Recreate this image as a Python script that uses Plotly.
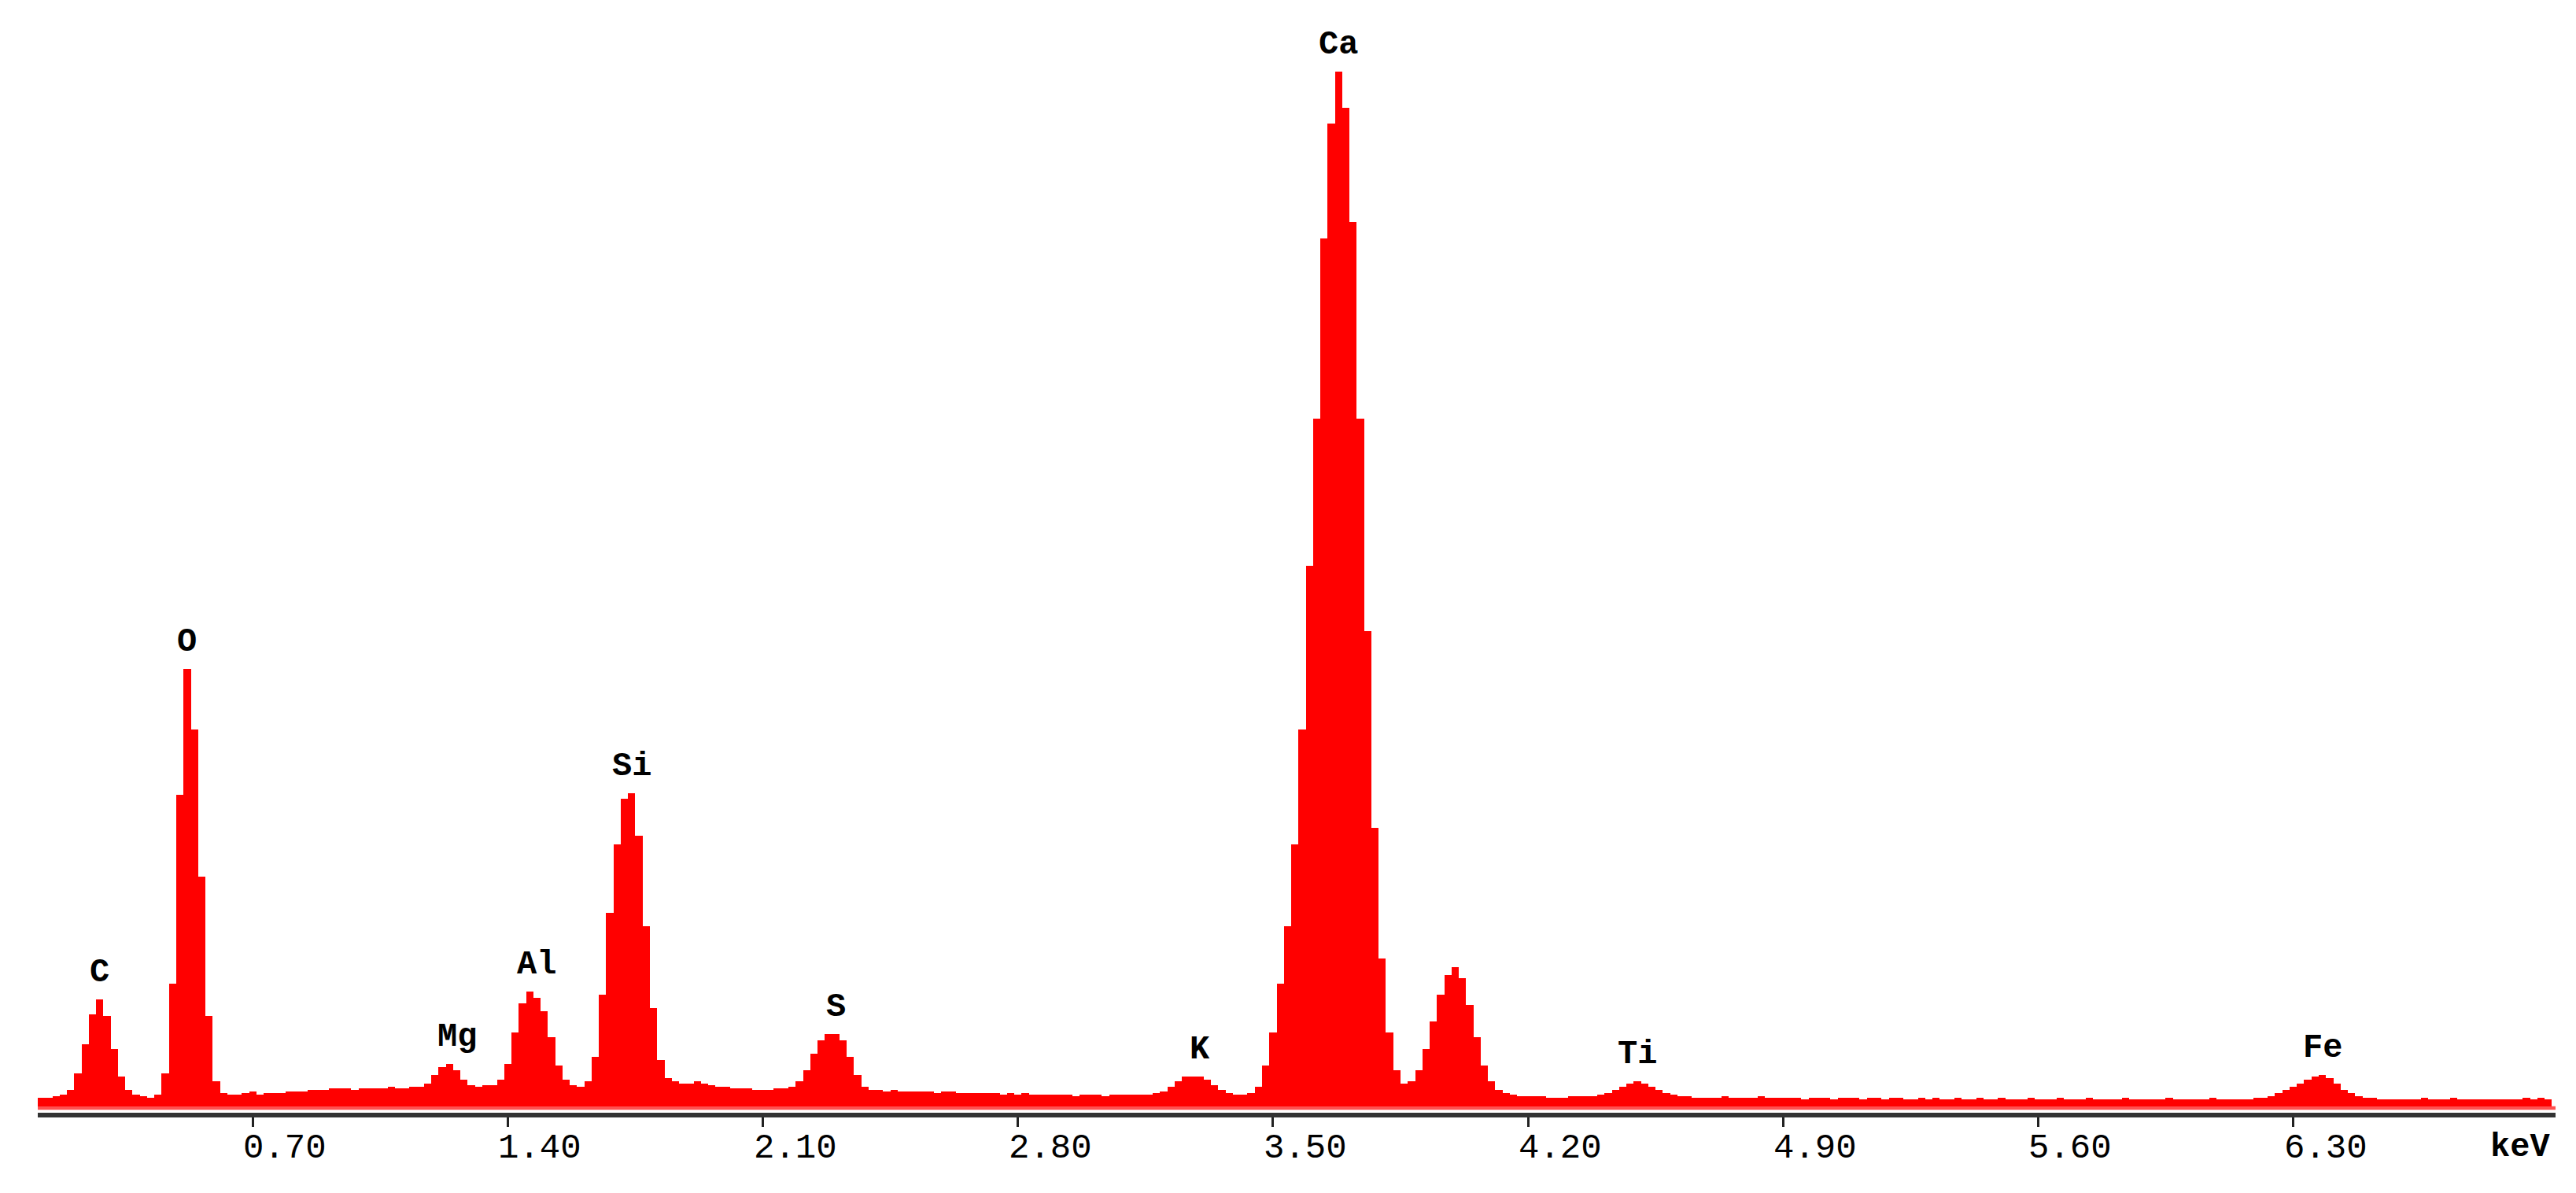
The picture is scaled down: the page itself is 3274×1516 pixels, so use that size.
import numpy as np
import plotly.graph_objects as go

# EDS spectrum, 0.02 keV channels starting at 0.10 keV
START_KEV = 0.10
CHANNEL_KEV = 0.02
COUNTS = [
    4, 5, 5, 6, 7, 10, 20, 38, 56, 65,            # 0.10
    55, 35, 18, 10, 7, 6, 5, 7, 20, 75,           # 0.30
    190, 267, 230, 140, 55, 15, 8, 7, 7, 8,       # 0.50
    9, 7, 8, 8, 8, 9, 9, 9, 10, 10,               # 0.70
    10, 11, 11, 11, 10, 11, 11, 11, 11, 12,       # 0.90
    11, 11, 12, 12, 14, 19, 24, 26, 22, 16,       # 1.10
    13, 12, 13, 13, 16, 26, 45, 63, 70, 66,       # 1.30
    58, 42, 25, 16, 13, 12, 15, 30, 68, 118,      # 1.50
    160, 188, 191, 165, 110, 60, 28, 17, 15, 14,  # 1.70
    14, 15, 14, 13, 12, 12, 11, 11, 11, 10,       # 1.90
    10, 10, 11, 11, 12, 15, 22, 32, 40, 44,       # 2.10
    44, 40, 30, 19, 12, 10, 10, 9, 10, 9,         # 2.30
    9, 9, 9, 9, 8, 9, 9, 8, 8, 8,                 # 2.50
    8, 8, 8, 7, 8, 7, 8, 7, 7, 7,                 # 2.70
    7, 7, 7, 6, 7, 7, 7, 6, 7, 7,                 # 2.90
    7, 7, 7, 7, 8, 9, 12, 15, 18, 18,             # 3.10
    18, 16, 13, 10, 8, 7, 7, 8, 12, 25,           # 3.30
    45, 75, 110, 160, 230, 330, 420, 530, 600, 632,  # 3.50
    610, 540, 420, 290, 170, 90, 45, 22, 14, 15,  # 3.70
    22, 35, 52, 68, 80, 85, 78, 62, 42, 25,       # 3.90
    15, 10, 8, 7, 6, 6, 6, 6, 5, 5,               # 4.10
    5, 6, 6, 6, 6, 7, 8, 10, 12, 14,             # 4.30
    15, 14, 12, 10, 8, 7, 6, 6, 5, 5,             # 4.50
    5, 5, 6, 5, 5, 5, 5, 6, 5, 5,                 # 4.70
    5, 5, 5, 4, 5, 5, 5, 4, 5, 5,                 # 4.90
    5, 4, 5, 5, 4, 5, 5, 4, 4, 5,                 # 5.10
    4, 5, 4, 4, 5, 4, 4, 5, 4, 4,                 # 5.30
    5, 4, 4, 4, 5, 4, 4, 4, 5, 4,                 # 5.50
    4, 4, 5, 4, 4, 4, 4, 5, 4, 4,                 # 5.70
    4, 4, 4, 5, 4, 4, 4, 4, 4, 5,                 # 5.90
    4, 4, 4, 4, 4, 5, 5, 6, 8, 10,                # 6.10
    12, 14, 16, 18, 19, 17, 14, 10, 8, 6,         # 6.30
    5, 5, 4, 4, 4, 4, 4, 4, 5, 4,                 # 6.50
    4, 4, 5, 4, 4, 4, 4, 4, 4, 4,                 # 6.70
    4, 4, 5, 4, 5, 4,                             # 6.90
]

# element labels and the energy of their peak
ELEMENTS = ['C', 'O', 'Mg', 'Al', 'Si', 'S', 'K', 'Ca', 'Ti', 'Fe']
ELEMENT_KEV = [0.28, 0.52, 1.26, 1.48, 1.74, 2.30, 3.30, 3.68, 4.50, 6.38]

TICK_VALS = [0.70, 1.40, 2.10, 2.80, 3.50, 4.20, 4.90, 5.60, 6.30]
TICK_TEXT = ['0.70', '1.40', '2.10', '2.80', '3.50', '4.20', '4.90', '5.60', '6.30']

energy = START_KEV + CHANNEL_KEV * np.arange(len(COUNTS))
counts = np.array(COUNTS) * 10

fig = go.Figure()
fig.add_trace(go.Bar(
    x=energy, y=counts, width=CHANNEL_KEV,
    marker=dict(color='#ff0000', line=dict(width=0)),
    showlegend=False,
))

label_font = dict(family='Liberation Mono', size=42, color='black')
tick_font = dict(family='Liberation Mono', size=44, color='black')

for label, kev in zip(ELEMENTS, ELEMENT_KEV):
    idx = int(round((kev - START_KEV) / CHANNEL_KEV))
    peak = counts[max(idx - 2, 0):idx + 3].max()
    fig.add_annotation(
        x=kev, y=peak, text=f"<b>{label}</b>", showarrow=False,
        yanchor='bottom', yshift=8, font=label_font,
    )

# tick labels sit just to the right of their tick marks
for val, text in zip(TICK_VALS, TICK_TEXT):
    fig.add_annotation(
        x=val, y=0, text=text, showarrow=False,
        xanchor='left', xshift=-14, yanchor='top', yshift=-26, font=tick_font,
    )

fig.add_annotation(
    x=7.01, y=0, text="<b>keV</b>", showarrow=False,
    xanchor='right', yanchor='top', yshift=-26, font=label_font,
)

# pale strip under the spectrum
fig.add_shape(type='rect', xref='x', yref='y', x0=0.11, x1=7.02, y0=-22, y1=0,
              fillcolor='#ff5050', line=dict(width=0), layer='below')

fig.update_xaxes(
    range=[0.11, 7.02],
    tickvals=TICK_VALS, showticklabels=False,
    ticks='outside', ticklen=12, tickwidth=3, tickcolor='#222222',
    showline=True, linewidth=6, linecolor='#333333',
    showgrid=False, zeroline=False,
)
fig.update_yaxes(
    range=[-40, 6430], visible=False, showgrid=False, zeroline=False,
)

fig.update_layout(
    width=3274, height=1516,
    margin=dict(l=40, r=34, t=60, b=110),
    paper_bgcolor='white', plot_bgcolor='white',
    bargap=0,
)

fig.write_html("out.html")
